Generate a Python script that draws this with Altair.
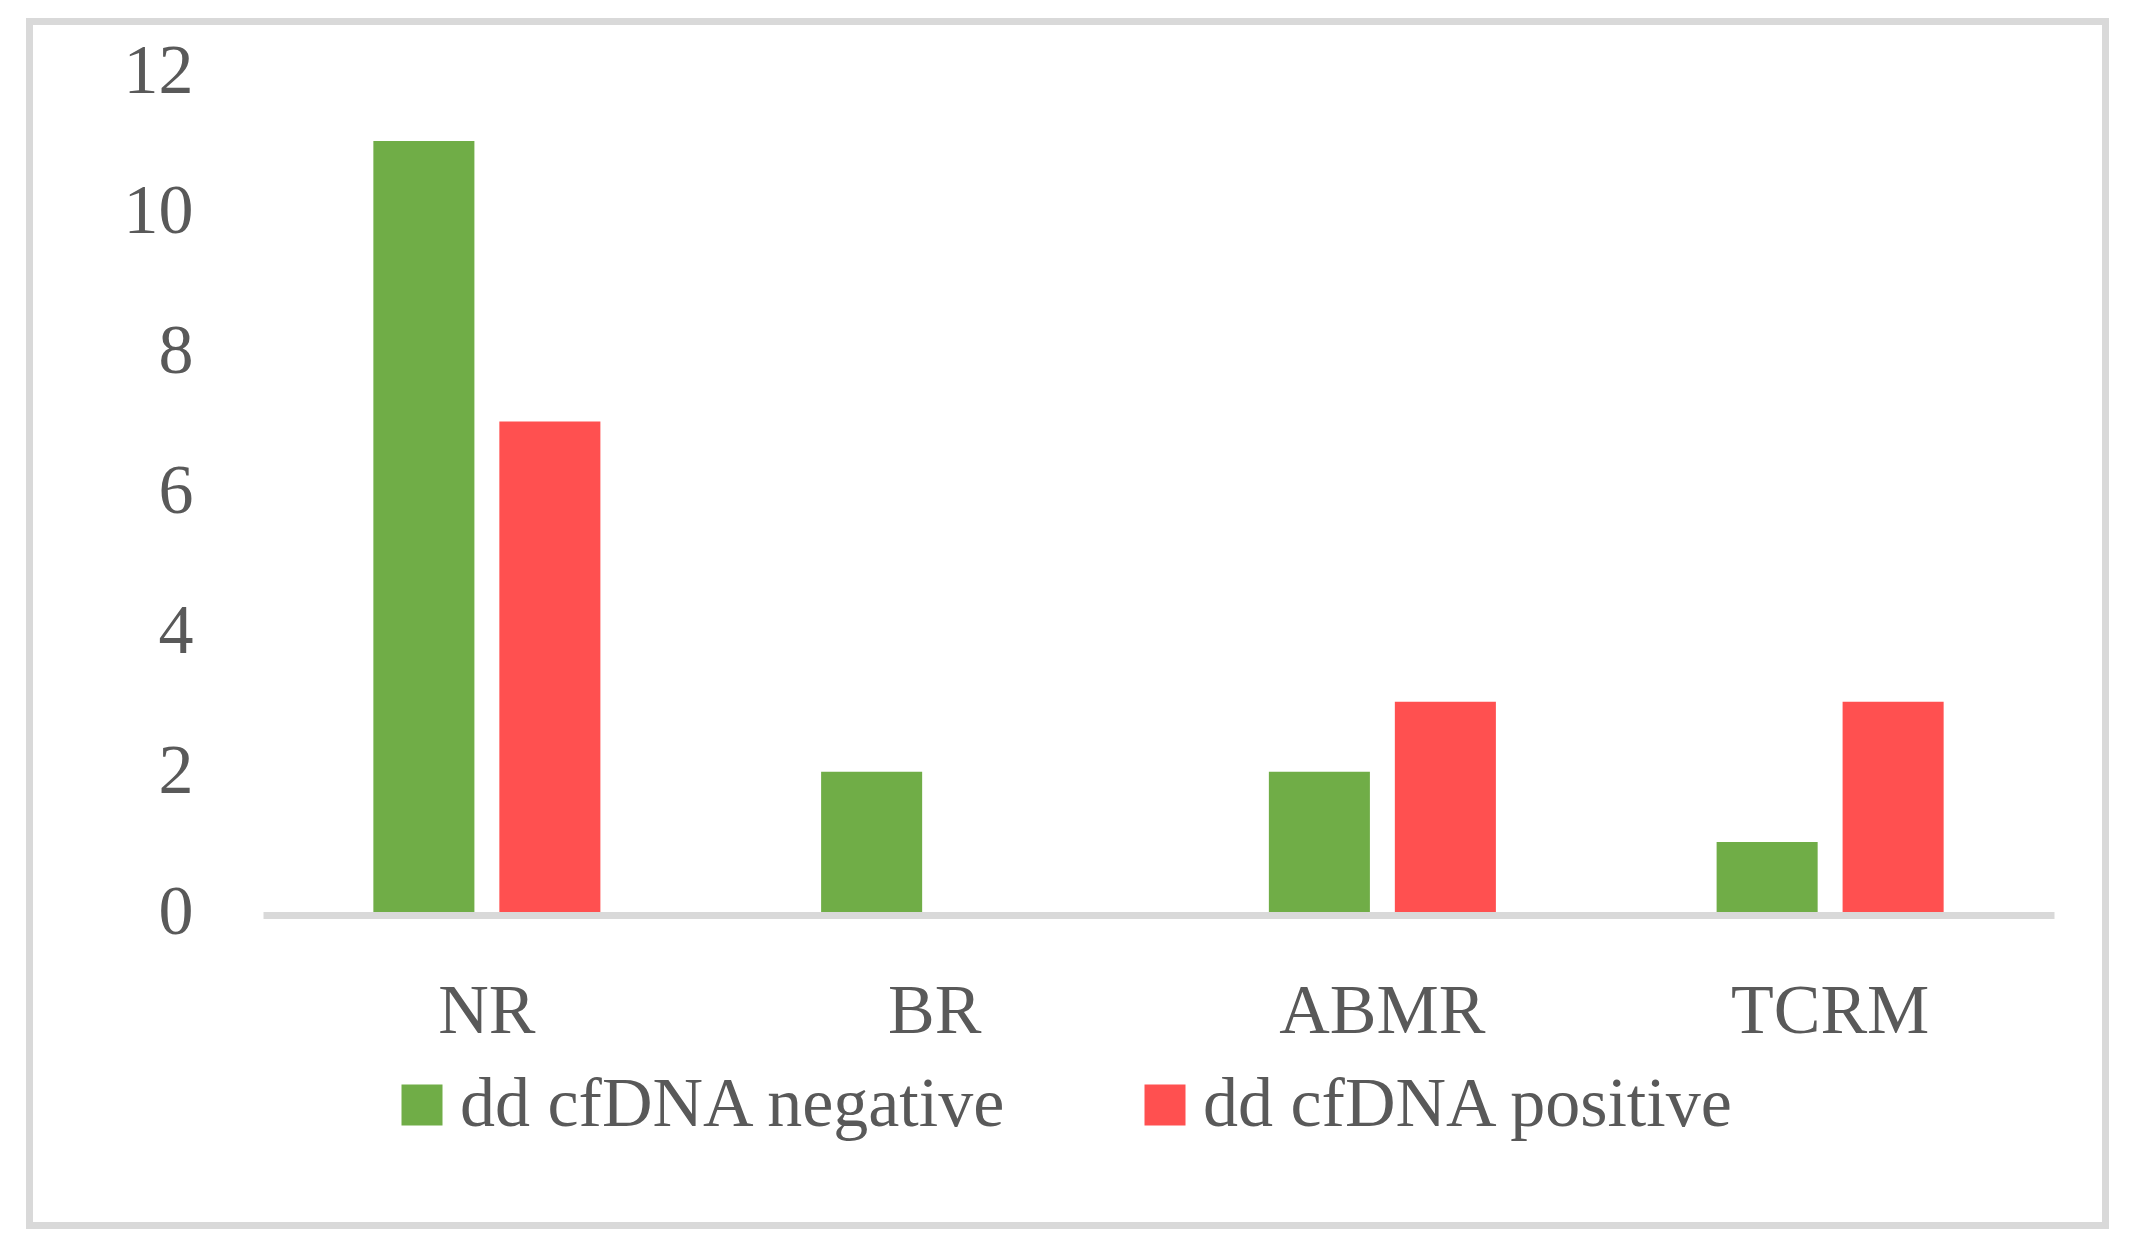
import altair as alt
import pandas as pd

categories = ["NR", "BR", "ABMR", "TCRM"]
series = ["dd cfDNA negative", "dd cfDNA positive"]
negative = [11, 2, 2, 1]
positive = [7, 0, 3, 3]
y_ticks = [0, 2, 4, 6, 8, 10, 12]
colors = ["#70AD47", "#FF5050"]

rows = []
for c, n, p in zip(categories, negative, positive):
    rows.append({"category": c, "series": series[0], "value": n})
    rows.append({"category": c, "series": series[1], "value": p})
df = pd.DataFrame(rows)

FONT = "Liberation Serif"
TXT = "#595959"
FS = 70

bars = alt.Chart(df).mark_bar().encode(
    x=alt.X("category:N", sort=categories,
            scale=alt.Scale(paddingInner=0, paddingOuter=0),
            axis=alt.Axis(title=None, labelAngle=0, ticks=False, tickSize=0,
                          domain=True, domainColor="#D9D9D9", domainWidth=7,
                          offset=3, labelPadding=62, labelFont=FONT,
                          labelFontSize=FS, labelColor=TXT, labelLimit=2000,
                          grid=False)),
    xOffset=alt.XOffset("series:N", sort=series,
                        scale=alt.Scale(paddingInner=0.198, paddingOuter=0.876)),
    y=alt.Y("value:Q", scale=alt.Scale(domain=[0, 12], nice=False),
            axis=alt.Axis(title=None, values=y_ticks, ticks=False, tickSize=0,
                          domain=False, grid=False, labelPadding=70,
                          labelFont=FONT, labelFontSize=FS, labelColor=TXT,
                          labelBaseline="middle")),
    color=alt.Color("series:N", sort=series,
                    scale=alt.Scale(domain=series, range=colors),
                    legend=alt.Legend(title=None, orient="none", direction="horizontal",
                                      legendX=124, legendY=999, symbolType="square",
                                      symbolSize=1681, symbolStrokeWidth=0,
                                      symbolOpacity=1, labelOffset=3,
                                      columnPadding=121, labelFont=FONT,
                                      labelFontSize=FS, labelColor=TXT,
                                      labelLimit=2000, padding=0)),
)

border = alt.Chart(alt.Data(values=[{"k": 1}])).mark_rect(
    filled=False, stroke="#D9D9D9", strokeWidth=7
).encode(
    x=alt.value(-233.5), x2=alt.value(1842.5),
    y=alt.value(-49.5), y2=alt.value(1154.5),
)

chart = alt.layer(border, bars).properties(
    width=1791, height=841,
    padding={"left": 255, "top": 63, "right": 69, "bottom": 335},
    autosize="none",
    background="white",
).configure_view(stroke=None)

chart.save("out.html", embed_options={"renderer": "svg", "actions": False})
